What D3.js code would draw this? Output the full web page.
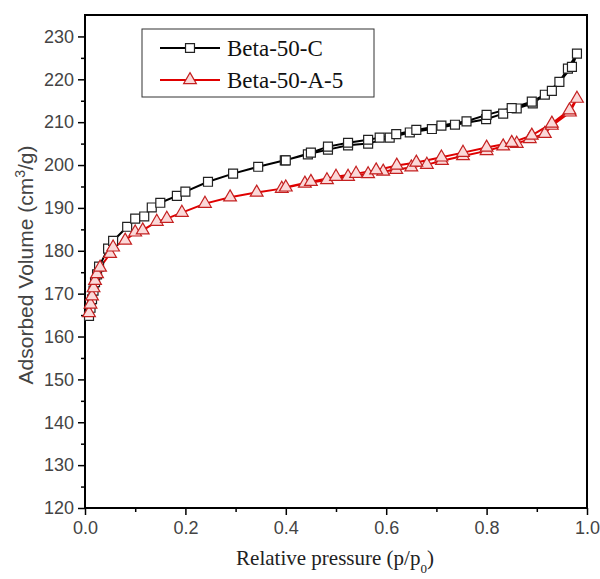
<!DOCTYPE html>
<html>
<head>
<meta charset="utf-8">
<script src="https://cdn.jsdelivr.net/npm/d3@7"></script>
<style>
  body { margin: 0; background: #fff; }
  svg { display: block; }
</style>
</head>
<body>
<svg id="chart" width="600" height="579"></svg>
<script>
// Beta-50-C, adsorption branch then desorption branch
var cAdsX = [0.008, 0.011, 0.014, 0.017, 0.020, 0.024, 0.028, 0.046, 0.056, 0.084, 0.100, 0.118, 0.133, 0.150, 0.183, 0.200, 0.245, 0.295, 0.345, 0.398, 0.444, 0.484, 0.524, 0.564, 0.607, 0.647, 0.691, 0.737, 0.799, 0.833, 0.860, 0.892, 0.916, 0.945, 0.962, 0.980];
var cAdsV = [164.8, 166.7, 168.7, 170.7, 172.7, 174.5, 176.3, 180.5, 182.3, 185.6, 187.5, 188.0, 190.1, 191.2, 192.8, 193.8, 196.1, 198.0, 199.6, 201.1, 202.5, 203.6, 204.6, 205.0, 206.4, 207.6, 208.4, 209.4, 210.7, 212.0, 213.2, 214.4, 216.4, 219.4, 222.5, 226.0];
var cDesX = [0.970, 0.930, 0.890, 0.850, 0.800, 0.760, 0.710, 0.660, 0.620, 0.587, 0.564, 0.524, 0.484, 0.450, 0.400];
var cDesV = [222.9, 217.3, 214.8, 213.3, 211.7, 210.2, 209.2, 208.2, 207.2, 206.4, 205.9, 205.2, 204.3, 202.9, 201.1];

// Beta-50-A-5
var aAdsX = [0.008, 0.011, 0.014, 0.017, 0.020, 0.024, 0.030, 0.050, 0.056, 0.080, 0.100, 0.115, 0.143, 0.163, 0.193, 0.239, 0.289, 0.342, 0.392, 0.438, 0.482, 0.524, 0.564, 0.594, 0.620, 0.650, 0.681, 0.711, 0.753, 0.800, 0.833, 0.860, 0.886, 0.916, 0.930, 0.966, 0.980];
var aAdsV = [165.5, 167.5, 169.4, 171.3, 173.0, 174.6, 176.1, 179.3, 180.8, 182.4, 184.3, 184.8, 186.8, 187.5, 188.9, 191.0, 192.5, 193.6, 194.5, 195.7, 196.5, 197.3, 197.9, 198.5, 198.9, 199.5, 200.1, 201.0, 202.1, 203.3, 204.4, 205.0, 206.1, 207.3, 209.2, 212.3, 215.5];
var aDesX = [0.965, 0.930, 0.890, 0.850, 0.800, 0.753, 0.710, 0.660, 0.621, 0.580, 0.540, 0.500, 0.450, 0.400];
var aDesV = [212.8, 209.7, 206.9, 205.2, 204.1, 202.9, 201.8, 200.6, 199.9, 198.8, 198.0, 197.3, 196.1, 194.8];

var seriesNames = ["Beta-50-C", "Beta-50-A-5"];
var xTicks = [0, 0.2, 0.4, 0.6, 0.8, 1.0];
var yTicks = [120, 130, 140, 150, 160, 170, 180, 190, 200, 210, 220, 230];

function pts(xs, vs) {
    return xs.map(function(d, i) { return { x: d, v: vs[i] }; });
}

var series = [
    { name: seriesNames[0], data: pts(cAdsX, cAdsV).concat(pts(cDesX, cDesV)),
      line: "#000", stroke: "#222", fill: "#fff", shape: d3.symbolSquare, size: 80 },
    { name: seriesNames[1], data: pts(aAdsX, aAdsV).concat(pts(aDesX, aDesV)),
      line: "#e00000", stroke: "#c42020", fill: "#fbd9d9", shape: d3.symbolTriangle, size: 70 }
];

var margin = { left: 85, top: 15, right: 13, bottom: 71 };
var width = 600 - margin.left - margin.right;
var height = 579 - margin.top - margin.bottom;

var svg = d3.select("#chart");
var g = svg.append("g").attr("transform", "translate(" + margin.left + "," + margin.top + ")");

var x = d3.scaleLinear().domain([0, 1]).range([0, width]);
var y = d3.scaleLinear().domain([120, 235]).range([height, 0]);

// minor ticks
g.append("g")
    .attr("transform", "translate(0," + height + ")")
    .call(d3.axisBottom(x).tickValues(d3.range(0.1, 1, 0.2)).tickSize(4).tickFormat(""))
    .call(function(s) { s.select(".domain").remove(); s.selectAll("line").attr("stroke-width", 1.5); });
g.append("g")
    .call(d3.axisLeft(y).tickValues(d3.range(125, 235, 10)).tickSize(4).tickFormat(""))
    .call(function(s) { s.select(".domain").remove(); s.selectAll("line").attr("stroke-width", 1.5); });

// major ticks
var xAxis = g.append("g")
    .attr("transform", "translate(0," + height + ")")
    .call(d3.axisBottom(x).tickValues(xTicks).tickSize(7).tickPadding(6).tickFormat(d3.format(".1f")));
var yAxis = g.append("g")
    .call(d3.axisLeft(y).tickValues(yTicks).tickSize(7).tickPadding(4));

[xAxis, yAxis].forEach(function(a) {
    a.select(".domain").remove();
    a.selectAll("line").attr("stroke-width", 1.5);
    a.selectAll("text")
        .attr("fill", "#444")
        .style("font-family", "'Liberation Sans', Arial, sans-serif")
        .style("font-size", "18px");
});

// frame
g.append("rect")
    .attr("width", width).attr("height", height)
    .attr("fill", "none").attr("stroke", "#000").attr("stroke-width", 2);

var line = d3.line().x(function(d) { return x(d.x); }).y(function(d) { return y(d.v); });

series.forEach(function(s) {
    g.append("path")
        .datum(s.data)
        .attr("fill", "none")
        .attr("stroke", s.line)
        .attr("stroke-width", 2)
        .attr("d", line);
});

series.forEach(function(s) {
    var sym = d3.symbol().type(s.shape).size(s.size);
    g.append("g").selectAll("path")
        .data(s.data)
        .join("path")
        .attr("transform", function(d) { return "translate(" + x(d.x) + "," + y(d.v) + ")"; })
        .attr("d", sym)
        .attr("fill", s.fill)
        .attr("stroke", s.stroke)
        .attr("stroke-width", 1.2);
});

// legend
var legend = svg.append("g").attr("transform", "translate(142,29)");
legend.append("rect")
    .attr("width", 232).attr("height", 68)
    .attr("fill", "#fff").attr("stroke", "#333").attr("stroke-width", 1);

series.forEach(function(s, i) {
    var row = legend.append("g").attr("transform", "translate(0," + (19 + i * 32) + ")");
    row.append("line")
        .attr("x1", 18).attr("x2", 78)
        .attr("stroke", s.line).attr("stroke-width", 2);
    row.append("path")
        .attr("transform", "translate(48,0)")
        .attr("d", d3.symbol().type(s.shape).size(s.size)())
        .attr("fill", s.fill).attr("stroke", s.stroke).attr("stroke-width", 1.2);
    row.append("text")
        .attr("x", 85).attr("y", 8)
        .style("font-family", "'Liberation Serif', 'Times New Roman', serif")
        .style("font-size", "23px")
        .attr("fill", "#111")
        .text(s.name);
});

// axis titles
var xTitle = svg.append("text")
    .attr("x", 335).attr("y", 565)
    .attr("text-anchor", "middle")
    .attr("fill", "#222")
    .style("font-family", "'Liberation Serif', 'Times New Roman', serif")
    .style("font-size", "21px");
xTitle.append("tspan").text("Relative pressure (p/p");
xTitle.append("tspan").attr("baseline-shift", "sub").style("font-size", "13px").text("0");
xTitle.append("tspan").text(")");

var yTitle = svg.append("text")
    .attr("transform", "translate(33,265) rotate(-90)")
    .attr("text-anchor", "middle")
    .attr("fill", "#444")
    .style("font-family", "'Liberation Sans', Arial, sans-serif")
    .style("font-size", "21px");
yTitle.append("tspan").text("Adsorbed Volume (cm");
yTitle.append("tspan").attr("baseline-shift", "super").style("font-size", "14px").text("3");
yTitle.append("tspan").text("/g)");
</script>
</body>
</html>
